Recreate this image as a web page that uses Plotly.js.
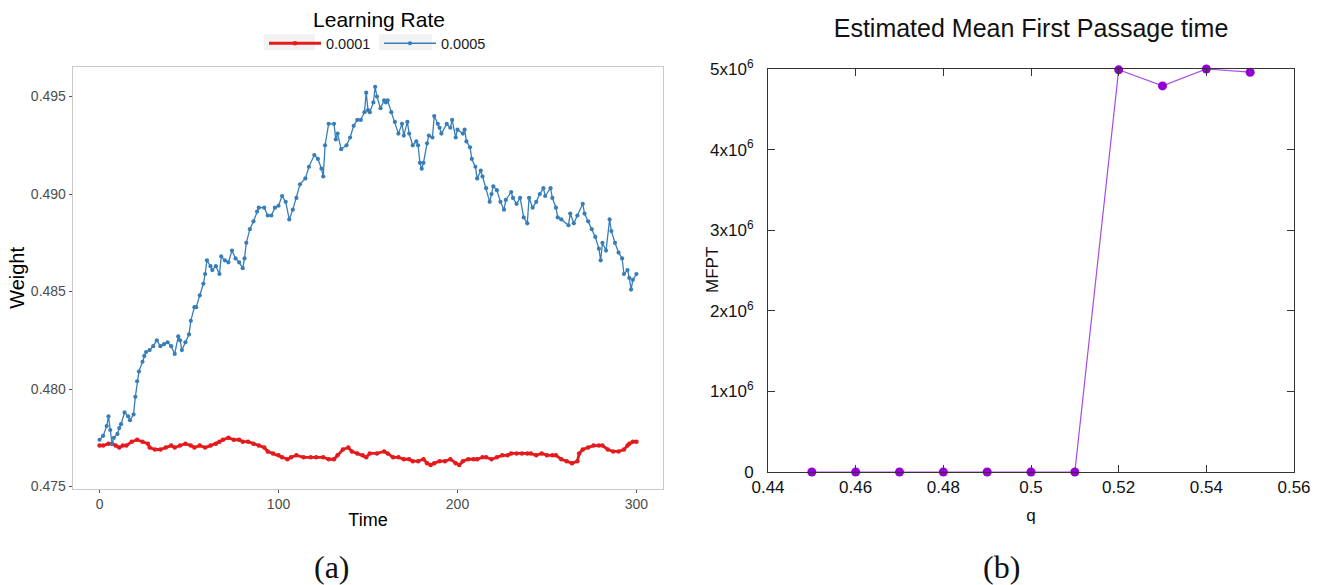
<!DOCTYPE html>
<html>
<head>
<meta charset="utf-8">
<script src="https://cdn.plot.ly/plotly-3.0.1.min.js"></script>
<style>html,body{margin:0;padding:0;background:#fff;}#chart{width:1320px;height:585px;}</style>
</head>
<body>
<div id="chart"></div>
<script>
// Panel (a): weight over time for two learning rates
const seriesNames = ["0.0001", "0.0005"];

const timeLR5 = [0,2,4,5,6,7,8,10,11,12,14,16,17,19,20,21,22,24,25,26,28,30,32,34,36,38,40,42,44,45,46,48,50,51,53,54,56,58,59,60,62,63,65,67,68,70,72,74,76,78,80,81,82,84,86,88,89,92,94,96,98,100,102,104,106,108,110,112,115,117,120,122,124,125,126,128,131,132,133,135,138,140,142,144,146,148,149,150,151,153,154,155,157,159,160,161,163,165,167,169,170,172,173,175,177,178,179,180,181,183,184,186,187,189,190,191,194,196,197,199,200,203,204,205,207,208,210,211,213,214,216,218,219,220,222,224,226,227,230,231,233,235,237,239,240,242,244,246,248,249,252,253,255,256,258,262,263,265,267,270,271,273,275,277,279,280,281,283,285,286,288,290,292,293,295,296,297,298,300];
const weightLR5 = [0.4774,0.4776,0.4781,0.4786,0.4779,0.4772,0.4775,0.4777,0.4780,0.4782,0.4788,0.4786,0.4784,0.4787,0.4796,0.4804,0.4809,0.4814,0.4817,0.4819,0.4820,0.4822,0.4825,0.4822,0.4823,0.4824,0.4822,0.4818,0.4827,0.4825,0.4820,0.4824,0.4828,0.4835,0.4842,0.4842,0.4848,0.4854,0.4859,0.4866,0.4863,0.4861,0.4863,0.4859,0.4868,0.4866,0.4865,0.4871,0.4867,0.4865,0.4862,0.4867,0.4875,0.4882,0.4886,0.4891,0.4893,0.4893,0.4889,0.4889,0.4893,0.4894,0.4899,0.4896,0.4887,0.4892,0.4898,0.4905,0.4908,0.4914,0.4920,0.4918,0.4913,0.4909,0.4925,0.4936,0.4936,0.4928,0.4931,0.4923,0.4925,0.4929,0.4935,0.4938,0.4938,0.4942,0.4952,0.4943,0.4942,0.4947,0.4955,0.4950,0.4944,0.4948,0.4947,0.4948,0.4942,0.4937,0.4931,0.4936,0.4930,0.4937,0.4931,0.4925,0.4927,0.4925,0.4916,0.4913,0.4916,0.4926,0.4930,0.4929,0.4940,0.4936,0.4934,0.4931,0.4936,0.4934,0.4938,0.4929,0.4933,0.4931,0.4933,0.4927,0.4924,0.4918,0.4914,0.4908,0.4912,0.4909,0.4903,0.4896,0.4900,0.4904,0.4902,0.4896,0.4892,0.4897,0.4901,0.4898,0.4895,0.4898,0.4888,0.4885,0.4898,0.4893,0.4896,0.4900,0.4903,0.4899,0.4903,0.4898,0.4893,0.4888,0.4887,0.4884,0.4890,0.4885,0.4889,0.4895,0.4890,0.4886,0.4882,0.4878,0.4872,0.4866,0.4875,0.4871,0.4887,0.4881,0.4875,0.4870,0.4867,0.4859,0.4861,0.4857,0.4851,0.4856,0.4859];

const timeLR1 = [0,2,5,7,9,11,13,15,18,21,24,27,28,31,34,37,40,42,45,48,51,53,56,59,62,65,67,69,72,75,78,80,83,86,89,92,94,97,100,102,105,107,110,114,118,121,125,128,131,133,136,139,141,144,147,149,151,155,159,161,164,167,170,173,175,178,181,183,185,187,190,193,196,199,201,203,206,209,211,214,216,219,222,225,228,230,233,236,239,241,244,247,250,253,255,258,261,264,267,268,270,273,276,279,281,284,287,290,293,295,296,298,300];
const weightLR1 = [0.4771,0.4771,0.4772,0.4772,0.4771,0.4770,0.4771,0.4771,0.4773,0.4774,0.4773,0.4772,0.4770,0.4769,0.4769,0.4770,0.4771,0.4770,0.4771,0.4772,0.4771,0.4770,0.4771,0.4770,0.4771,0.4772,0.4773,0.4774,0.4775,0.4774,0.4774,0.4773,0.4773,0.4772,0.4771,0.4770,0.4768,0.4767,0.4766,0.4765,0.4764,0.4765,0.4766,0.4765,0.4765,0.4765,0.4765,0.4764,0.4764,0.4766,0.4769,0.4770,0.4768,0.4767,0.4766,0.4765,0.4767,0.4767,0.4768,0.4767,0.4765,0.4765,0.4764,0.4764,0.4763,0.4763,0.4764,0.4762,0.4761,0.4762,0.4763,0.4763,0.4764,0.4762,0.4761,0.4763,0.4764,0.4764,0.4764,0.4765,0.4765,0.4764,0.4765,0.4766,0.4766,0.4767,0.4767,0.4767,0.4767,0.4767,0.4766,0.4767,0.4766,0.4766,0.4766,0.4764,0.4763,0.4762,0.4763,0.4767,0.4769,0.4770,0.4771,0.4771,0.4771,0.4769,0.4768,0.4768,0.4769,0.4771,0.4772,0.4773,0.4773];

const weightTicks = [0.475, 0.480, 0.485, 0.490, 0.495];
const weightTickText = ["0.475", "0.480", "0.485", "0.490", "0.495"];
const timeTicks = [0, 100, 200, 300];

// Panel (b): estimated mean first passage time
const qValues = [0.45, 0.46, 0.47, 0.48, 0.49, 0.50, 0.51, 0.52, 0.53, 0.54, 0.55];
const mfptValues = [0, 0, 0, 0, 0, 0, 0, 4.99e6, 4.79e6, 5.0e6, 4.96e6];
const mfptTicks = [0, 1e6, 2e6, 3e6, 4e6, 5e6];
const mfptTickText = ["0", "1x10<sup>6</sup>", "2x10<sup>6</sup>", "3x10<sup>6</sup>", "4x10<sup>6</sup>", "5x10<sup>6</sup>"];

const SANS = "Liberation Sans, Arial, sans-serif";
const SERIF = "Liberation Serif, DejaVu Serif, serif";

const traces = [
  {
    x: timeLR1, y: weightLR1, name: seriesNames[0], type: "scatter", mode: "lines+markers",
    line: {color: "#E41A1C", width: 2.8}, marker: {color: "#E41A1C", size: 4.5},
    xaxis: "x", yaxis: "y", showlegend: true
  },
  {
    x: timeLR5, y: weightLR5, name: seriesNames[1], type: "scatter", mode: "lines+markers",
    line: {color: "#377EB8", width: 1.3}, marker: {color: "#377EB8", size: 4.2},
    xaxis: "x", yaxis: "y", showlegend: true
  },
  {
    x: qValues, y: mfptValues, name: "MFPT", type: "scatter", mode: "lines+markers",
    line: {color: "#a64ce8", width: 1.2}, marker: {color: "#9400d3", size: 9},
    xaxis: "x2", yaxis: "y2", showlegend: false, cliponaxis: false
  }
];

const layout = {
  width: 1320, height: 585,
  margin: {l: 0, r: 0, t: 0, b: 0},
  paper_bgcolor: "#ffffff", plot_bgcolor: "#ffffff",
  font: {family: SANS, color: "#000"},
  showlegend: true,
  legend: {
    orientation: "h", x: 264 / 1320, xanchor: "left", y: 1, yanchor: "top",
    bgcolor: "rgba(0,0,0,0)",
    font: {family: SANS, size: 14.5, color: "#1a1a1a"},
    title: {text: "Learning Rate", side: "top center", font: {family: SANS, size: 21, color: "#000"}},
    itemwidth: 52, entrywidth: 48, entrywidthmode: "pixels", tracegroupgap: 0
  },
  title: {
    text: "Estimated Mean First Passage time",
    x: 1031 / 1320, xanchor: "center", y: 1 - 28 / 585, yanchor: "middle",
    font: {family: SANS, size: 25, color: "#111"}
  },
  xaxis: {
    domain: [72.7 / 1320, 663.3 / 1320], anchor: "y",
    range: [-15, 315], tickvals: timeTicks, ticks: "outside", ticklen: 3, tickcolor: "#555",
    showgrid: false, zeroline: false, showline: true, mirror: true, linecolor: "#c8c8c8", linewidth: 1,
    tickfont: {family: SANS, size: 14, color: "#4d4d4d"},
    title: {text: "Time", font: {family: SANS, size: 18, color: "#000"}, standoff: 2}
  },
  yaxis: {
    domain: [1 - 488.5 / 585, 1 - 67.3 / 585], anchor: "x",
    range: [0.4749, 0.4965], tickvals: weightTicks, ticktext: weightTickText,
    ticks: "outside", ticklen: 3, tickcolor: "#555",
    showgrid: false, zeroline: false, showline: true, mirror: true, linecolor: "#c8c8c8", linewidth: 1,
    tickfont: {family: SANS, size: 14, color: "#4d4d4d"},
    title: {text: "Weight", font: {family: SANS, size: 20, color: "#000"}, standoff: 0}
  },
  xaxis2: {
    domain: [768 / 1320, 1294 / 1320], anchor: "y2",
    range: [0.44, 0.56], dtick: 0.02, tick0: 0.44, ticks: "inside", ticklen: 7, tickcolor: "#333",
    showgrid: false, zeroline: false, showline: true, mirror: "allticks", linecolor: "#333", linewidth: 1,
    tickfont: {family: SANS, size: 17, color: "#111"},
    title: {text: "q", font: {family: SANS, size: 17, color: "#111"}, standoff: 12}
  },
  yaxis2: {
    domain: [1 - 472 / 585, 1 - 69 / 585], anchor: "x2",
    range: [0, 5e6], tickvals: mfptTicks, ticktext: mfptTickText,
    ticks: "inside", ticklen: 7, tickcolor: "#333", ticklabelstandoff: 10,
    showgrid: false, zeroline: false, showline: true, mirror: "allticks", linecolor: "#333", linewidth: 1,
    tickfont: {family: SANS, size: 17, color: "#111"}
  },
  shapes: [
    {type: "rect", xref: "paper", yref: "paper", x0: 264 / 1320, x1: 315 / 1320, y0: 1 - 50 / 585, y1: 1 - 34 / 585,
     fillcolor: "#f2f2f2", line: {width: 0}, layer: "below"},
    {type: "rect", xref: "paper", yref: "paper", x0: 379 / 1320, x1: 432 / 1320, y0: 1 - 50 / 585, y1: 1 - 34 / 585,
     fillcolor: "#f2f2f2", line: {width: 0}, layer: "below"}
  ],
  annotations: [
    {text: "MFPT", xref: "paper", yref: "paper", x: 712 / 1320, y: 1 - 270 / 585, xanchor: "center", yanchor: "middle",
     textangle: -90, showarrow: false, font: {family: SANS, size: 17, color: "#111"}},
    {text: "(a)", xref: "paper", yref: "paper", x: 332 / 1320, y: 1 - 567 / 585, xanchor: "center", yanchor: "middle",
     showarrow: false, font: {family: SERIF, size: 32, color: "#111"}},
    {text: "(b)", xref: "paper", yref: "paper", x: 1002 / 1320, y: 1 - 567 / 585, xanchor: "center", yanchor: "middle",
     showarrow: false, font: {family: SERIF, size: 32, color: "#111"}}
  ]
};

Plotly.newPlot("chart", traces, layout, {staticPlot: true, displayModeBar: false});
</script>
</body>
</html>
